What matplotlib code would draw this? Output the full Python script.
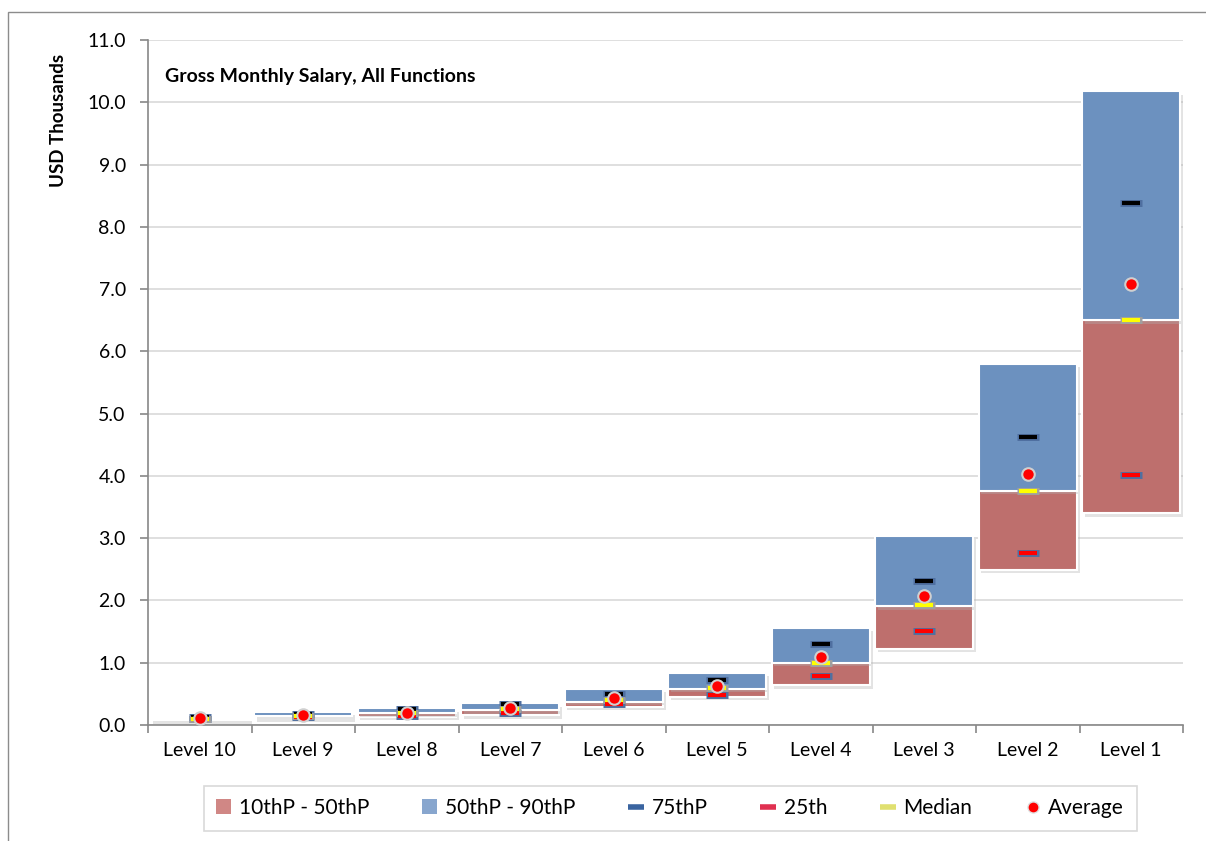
import matplotlib
matplotlib.use("Agg")
import matplotlib.pyplot as plt
import numpy as np
from matplotlib.patches import Patch, Rectangle
from matplotlib.lines import Line2D
import matplotlib.patheffects as pe

plt.rcParams['font.family'] = ['Lato', 'DejaVu Sans']

levels = ["Level 10", "Level 9", "Level 8", "Level 7", "Level 6",
          "Level 5", "Level 4", "Level 3", "Level 2", "Level 1"]
p10 = [0.07, 0.11, 0.13, 0.16, 0.29, 0.45, 0.64, 1.22, 2.49, 3.40]
p50 = [0.10, 0.15, 0.19, 0.24, 0.37, 0.58, 1.00, 1.91, 3.76, 6.50]
p90 = [0.12, 0.21, 0.27, 0.35, 0.58, 0.835, 1.56, 3.04, 5.80, 10.18]
p75 = [0.13, 0.18, 0.25, 0.33, 0.50, 0.72, 1.30, 2.31, 4.62, 8.38]
p25 = [0.09, 0.13, 0.15, 0.19, 0.34, 0.48, 0.79, 1.51, 2.76, 4.01]
median = [0.10, 0.15, 0.20, 0.26, 0.40, 0.59, 1.00, 1.93, 3.76, 6.50]
average = [0.12, 0.16, 0.20, 0.28, 0.43, 0.62, 1.09, 2.07, 4.03, 7.08]

red = '#BE6F6D'
blue = '#6C91BF'

fig = plt.figure(figsize=(12.06, 8.41), dpi=100)
ax = fig.add_axes([148/1206, 1-725/841, (1183-148)/1206, (725-40)/841])

# outer border
fig.patches.append(Rectangle((8/1206, -0.1), 1.2, 1.1-12/841, transform=fig.transFigure,
                             fill=False, edgecolor='#8c8c8c', lw=1.0, zorder=0))

x = np.arange(len(levels))
w = 0.95
shadow = [pe.SimplePatchShadow(offset=(2, -2.5), shadow_rgbFace='#B0B0B0', alpha=0.35), pe.Normal()]
low = np.array(p50) - np.array(p10)
high = np.array(p90) - np.array(p50)
ax.bar(x, low, bottom=p10, width=w, color=red, edgecolor='white', lw=1.5, zorder=3,
       path_effects=shadow)
ax.bar(x, high, bottom=p50, width=w, color=blue, edgecolor='white', lw=1.5, zorder=3,
       path_effects=shadow)

ms = 16
ax.plot(x, p75, ls='none', marker='_', ms=ms, mew=5, color='#4F6FA0', zorder=5)
ax.plot(x, p75, ls='none', marker='_', ms=ms-3, mew=3, color='black', zorder=6)
ax.plot(x, p25, ls='none', marker='_', ms=ms, mew=5, color='#4F6FA0', zorder=5)
ax.plot(x, p25, ls='none', marker='_', ms=ms-3, mew=3, color='red', zorder=6)
ax.plot(x, median, ls='none', marker='_', ms=ms, mew=5, color='#A0A0A0', zorder=5)
ax.plot(x, median, ls='none', marker='_', ms=ms-3, mew=3, color='yellow', zorder=6)
ax.plot(x, average, ls='none', marker='o', ms=9, mfc='red', mec='#D0D0D0', mew=1.5, zorder=7)

ax.set_ylim(0, 11)
ax.set_xlim(-0.5, len(levels) - 0.5)
ax.set_yticks(np.arange(0, 11.5, 1.0))
ax.set_yticklabels([f"{v:.1f}" for v in np.arange(0, 11.5, 1.0)], fontsize=14)
ax.set_xticks(x)
ax.set_xticklabels(levels, fontsize=14)
ax.set_xticks(np.arange(-0.5, len(levels), 1.0), minor=True)
ax.tick_params(axis='x', which='major', length=0, pad=12)
ax.tick_params(axis='x', which='minor', length=6, color='#888888', width=1.2)
ax.tick_params(axis='y', length=6, color='#888888', width=1.2, pad=10)
ax.grid(axis='y', color='#D9D9D9', lw=1.2, zorder=0)
ax.set_axisbelow(True)
for s in ['top', 'right']:
    ax.spines[s].set_visible(False)
for s in ['left', 'bottom']:
    ax.spines[s].set_color('#888888')
    ax.spines[s].set_linewidth(1.2)

ax.set_ylabel("USD Thousands", fontsize=13.5, fontweight='bold', va='center')
ax.yaxis.set_label_coords(-0.086, 0.883)
ax.text(0.016, 0.947, "Gross Monthly Salary, All Functions", transform=ax.transAxes,
        fontsize=14, fontweight='bold', va='center')

handles = [
    Patch(facecolor='#D08785', edgecolor='none'),
    Patch(facecolor='#88A6CE', edgecolor='none'),
    Line2D([], [], ls='none', marker='_', ms=12, mew=4, color='#3A64A0'),
    Line2D([], [], ls='none', marker='_', ms=12, mew=4, color='#E03050'),
    Line2D([], [], ls='none', marker='_', ms=12, mew=4, color='#E0E070'),
    Line2D([], [], ls='none', marker='o', ms=8, mfc='red', mec='#E0E0E0'),
]
labels = ["10thP - 50thP", "50thP - 90thP", "75thP", "25th", "Median", "Average"]
leg = fig.legend(handles, labels, loc='center', bbox_to_anchor=(670/1206, 1-808/841),
                 ncol=6, fontsize=15, frameon=True, fancybox=False,
                 edgecolor='#D0D0D0', handlelength=0.7, handletextpad=0.4,
                 columnspacing=2.55, borderpad=0.6)
leg.get_frame().set_linewidth(1.2)

fig.savefig("out.png", dpi=100)
